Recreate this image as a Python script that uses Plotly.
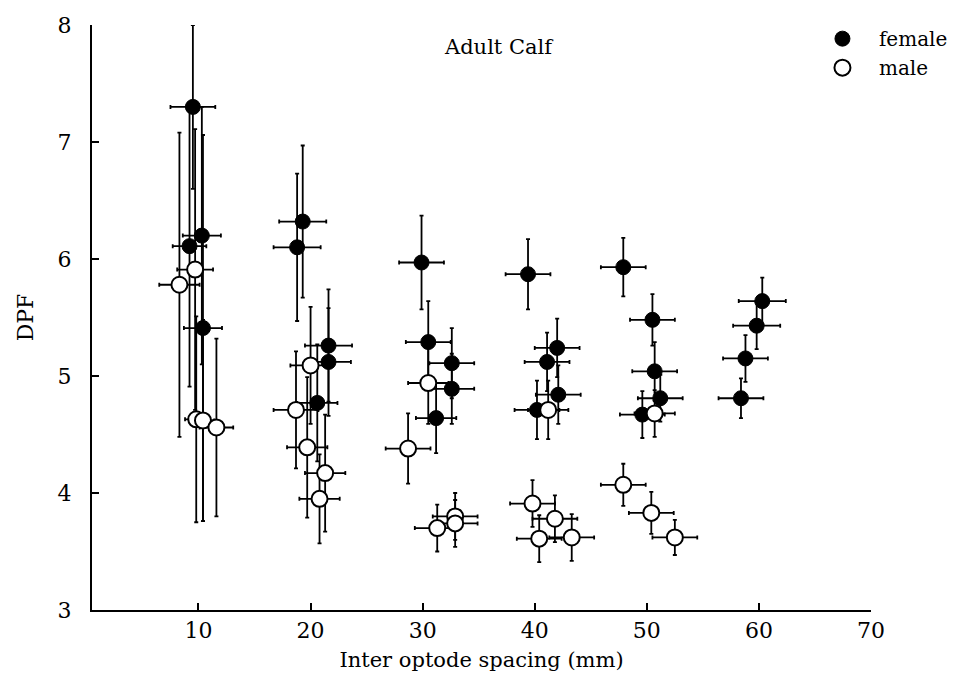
import plotly.graph_objects as go

# Female (filled) data
female_x = [9.5, 9.2, 10.3, 10.4,
            19.3, 18.8, 21.6, 21.6, 20.6,
            29.9, 30.5, 32.6, 32.6, 31.2,
            39.4, 42.0, 41.1, 42.1, 40.2,
            47.9, 50.5, 50.7, 51.2, 49.6,
            60.3, 59.8, 58.8, 58.4]
female_y = [7.30, 6.11, 6.20, 5.41,
            6.32, 6.10, 5.26, 5.12, 4.77,
            5.97, 5.29, 5.11, 4.89, 4.64,
            5.87, 5.24, 5.12, 4.84, 4.71,
            5.93, 5.48, 5.04, 4.81, 4.67,
            5.64, 5.43, 5.15, 4.81]
female_yerr = [0.70, 1.20, 1.10, 1.65,
               0.65, 0.63, 0.48, 0.46, 0.50,
               0.40, 0.35, 0.30, 0.30, 0.30,
               0.30, 0.25, 0.25, 0.25, 0.25,
               0.25, 0.22, 0.25, 0.20, 0.20,
               0.20, 0.20, 0.20, 0.17]
female_xerr = [2.0, 1.5, 1.7, 1.7,
               2.1, 2.1, 2.1, 2.0, 1.8,
               2.0, 2.0, 2.0, 2.0, 1.8,
               2.0, 2.0, 2.0, 2.0, 2.0,
               2.0, 2.0, 2.0, 2.0, 2.0,
               2.1, 2.1, 2.0, 2.0]

# Male (open) data
male_x = [8.3, 9.7, 9.8, 10.4, 11.6,
          20.0, 18.7, 19.7, 21.3, 20.8,
          30.5, 28.7, 32.9, 32.9, 31.3,
          41.2, 39.8, 41.8, 40.4, 43.3,
          50.7, 47.9, 50.4, 52.5]
male_y = [5.78, 5.91, 4.63, 4.62, 4.56,
          5.09, 4.71, 4.39, 4.17, 3.95,
          4.94, 4.38, 3.80, 3.74, 3.70,
          4.71, 3.91, 3.78, 3.61, 3.62,
          4.68, 4.07, 3.83, 3.62]
male_yerr = [1.30, 1.20, 0.88, 0.86, 0.76,
             0.50, 0.50, 0.60, 0.50, 0.38,
             0.35, 0.30, 0.20, 0.20, 0.20,
             0.25, 0.20, 0.20, 0.20, 0.20,
             0.20, 0.18, 0.18, 0.15]
male_xerr = [1.8, 1.6, 1.0, 1.0, 1.5,
             1.8, 2.0, 1.8, 1.8, 1.8,
             1.8, 2.0, 2.0, 2.0, 2.0,
             1.8, 2.0, 2.0, 2.0, 2.0,
             1.8, 2.0, 2.0, 2.0]

x_ticks = [10, 20, 30, 40, 50, 60, 70]
y_ticks = [3, 4, 5, 6, 7, 8]

FONT = "DejaVu Serif"

fig = go.Figure()

err_style = dict(color="black", thickness=1.8, width=2)

fig.add_trace(go.Scatter(
    x=female_x, y=female_y, mode="markers", name="female",
    marker=dict(symbol="circle", size=15, color="black",
                line=dict(color="black", width=1)),
    error_y=dict(type="data", array=female_yerr, visible=True, **err_style),
    error_x=dict(type="data", array=female_xerr, visible=True, **err_style),
))

fig.add_trace(go.Scatter(
    x=male_x, y=male_y, mode="markers", name="male",
    marker=dict(symbol="circle", size=16, color="white",
                line=dict(color="black", width=2)),
    error_y=dict(type="data", array=male_yerr, visible=True, **err_style),
    error_x=dict(type="data", array=male_xerr, visible=True, **err_style),
))

fig.update_layout(
    width=979, height=683,
    margin=dict(l=92, r=108, t=25, b=73),
    paper_bgcolor="white", plot_bgcolor="white",
    font=dict(family=FONT, color="black", size=22),
    showlegend=True,
    legend=dict(x=0.9165, y=1.010, xanchor="left", yanchor="top",
                bgcolor="rgba(0,0,0,0)", font=dict(size=20, family=FONT),
                itemsizing="trace", itemwidth=63, tracegroupgap=0),
    annotations=[dict(text="Adult Calf", x=0.523, y=0.962, xref="paper",
                      yref="paper", showarrow=False, xanchor="center",
                      yanchor="middle", font=dict(size=21, family=FONT))],
)

fig.update_xaxes(
    range=[0.5, 70], tickvals=x_ticks, ticktext=[str(v) for v in x_ticks],
    ticks="inside", ticklen=7, tickwidth=1.5, tickcolor="black",
    showline=True, linecolor="black", linewidth=2, mirror=False,
    showgrid=False, zeroline=False,
    title=dict(text="Inter optode spacing (mm)", font=dict(size=21, family=FONT), standoff=10),
    tickfont=dict(size=22, family=FONT),
)
fig.update_yaxes(
    range=[3, 8], tickvals=y_ticks, ticktext=[str(v) for v in y_ticks],
    ticks="inside", ticklen=7, tickwidth=1.5, tickcolor="black",
    showline=True, linecolor="black", linewidth=2, mirror=False,
    showgrid=False, zeroline=False,
    title=dict(text="DPF", font=dict(size=22, family=FONT), standoff=18),
    tickfont=dict(size=22, family=FONT), ticklabelstandoff=14,
)

fig.write_html("out.html")
